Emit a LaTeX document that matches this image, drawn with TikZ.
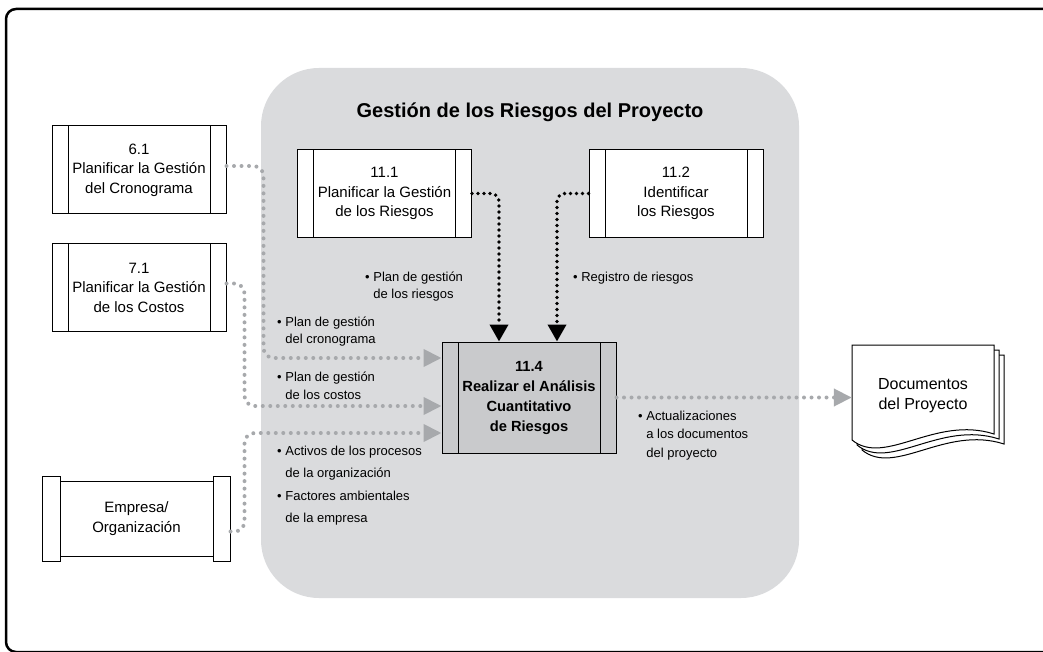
\documentclass[tikz,border=0pt]{standalone}
\usepackage{fontspec}
\setmainfont{Liberation Sans}
\usetikzlibrary{arrows.meta,positioning,calc}
\definecolor{regiongray}{HTML}{DADBDD}
\definecolor{flowgray}{HTML}{A7A9AC}
\definecolor{procgray}{HTML}{C9CACC}
\newcommand{\bul}{\textbullet\ }
\newcommand{\ind}{\phantom{\textbullet\ }}

\begin{document}
\begin{tikzpicture}[x=1pt,y=-1pt,
  ttl/.style={font=\fontsize{20}{23}\selectfont\bfseries},
  lbl/.style={font=\fontsize{13}{17.5}\selectfont, align=left, anchor=west, inner sep=0pt},
  proc/.style={draw, line width=1pt, fill=white, minimum width=174pt, minimum height=88pt, inner sep=0pt, align=center,
    font=\fontsize{15}{19.5}\selectfont,
    path picture={\draw[line width=1pt]
      ([xshift=16pt]path picture bounding box.north west) -- ([xshift=16pt]path picture bounding box.south west)
      ([xshift=-16pt]path picture bounding box.north east) -- ([xshift=-16pt]path picture bounding box.south east);}},
  grayflow/.style={draw=flowgray, line width=4pt, line cap=round, dash pattern=on 0pt off 7.5pt, rounded corners=10pt,
    -{Triangle[length=18pt,width=17pt]}},
  blkflow/.style={draw=black, line width=3.8pt, line cap=round, dash pattern=on 0pt off 6pt, rounded corners=8pt,
    -{Triangle[length=17pt,width=18pt]}},
  page/.style={draw, line width=1pt, fill=white, line join=miter},
]
\useasboundingbox (0,0) rectangle (1043,652);
\clip (0,0) rectangle (1043,652);
\draw[line width=2.5pt, rounded corners=10pt] (6,9) rectangle (1080,652);
% knowledge area region
\fill[regiongray, rounded corners=58pt] (261,68) rectangle (799,598);
\node[ttl] (title) at (530,112) {Gestión de los Riesgos del Proyecto};
% processes
\node[proc] (p61) at (139,170) {6.1\\Planificar la Gestión\\del Cronograma};
\node[proc] (p71) at (139,287.5) {7.1\\Planificar la Gestión\\de los Costos};
\node[proc] (p111) at (384.5,193.5) {11.1\\Planificar la Gestión\\de los Riesgos};
\node[proc] (p112) at (676,193.5) {11.2\\Identificar\\los Riesgos};
\node[proc, fill=procgray, minimum height=111pt, font=\fontsize{14.7}{20}\selectfont\bfseries] (p114) at (529,397.5)
  {11.4\\Realizar el Análisis\\Cuantitativo\\de Riesgos};
\node[draw, line width=1pt, fill=white, minimum width=187pt, minimum height=75pt, inner sep=0pt, align=center,
  font=\fontsize{15}{19.5}\selectfont] (pemp) at (136.5,518.5) {Empresa/\\Organización};
\draw[line width=1pt, fill=white] ([yshift=4pt]pemp.north west) rectangle ([xshift=18pt,yshift=-5pt]pemp.south west);
\draw[line width=1pt, fill=white] ([xshift=-17pt,yshift=4pt]pemp.north east) rectangle ([yshift=-5pt]pemp.south east);
% project documents
\foreach \o in {10,5,0}
  \draw[page, shift={(\o,\o)}] (852,345) -- (994,345) -- (994,434) .. controls (935,415) and (885,467) .. (852,440) -- cycle;
\node[font=\fontsize{16}{20}\selectfont, align=center, minimum width=142pt, inner sep=0pt] (docs) at (923,396) {Documentos\\del Proyecto};
% flows
\draw[blkflow] (p111.east) -| ([xshift=-30pt]p114.north);
\draw[blkflow] (p112.west) -| ([xshift=28pt]p114.north);
\draw[grayflow] ([yshift=4pt]p61.east) -- ++(37,0) |- ([yshift=39.5pt]p114.west);
\draw[grayflow] ([yshift=4pt]p71.east) -- ++(18,0) |- ([yshift=-8.5pt]p114.west);
\draw[grayflow] ([yshift=-13pt]pemp.east) -- ++(14,0) |- ([yshift=-35.5pt]p114.west);
\draw[grayflow] (p114.east) -- (docs.west |- p114.east);
% labels
\node[lbl] (lrisk) at (365,286.5) {\bul Plan de gestión\\\ind de los riesgos};
\node[lbl] (lreg) at (573,278) {\bul Registro de riesgos};
\node[lbl] (lcron) at (277,331.5) {\bul Plan de gestión\\\ind del cronograma};
\node[lbl] (lcost) at (277,386) {\bul Plan de gestión\\\ind de los costos};
\node[lbl, font=\fontsize{13}{22.3}\selectfont] (lact) at (277,485.5)
  {\bul Activos de los procesos\\\ind de la organización\\\bul Factores ambientales\\\ind de la empresa};
\node[lbl, font=\fontsize{13}{18.5}\selectfont] (lupd) at (638,435.5) {\bul Actualizaciones\\\ind a los documentos\\\ind del proyecto};
\end{tikzpicture}
\end{document}
